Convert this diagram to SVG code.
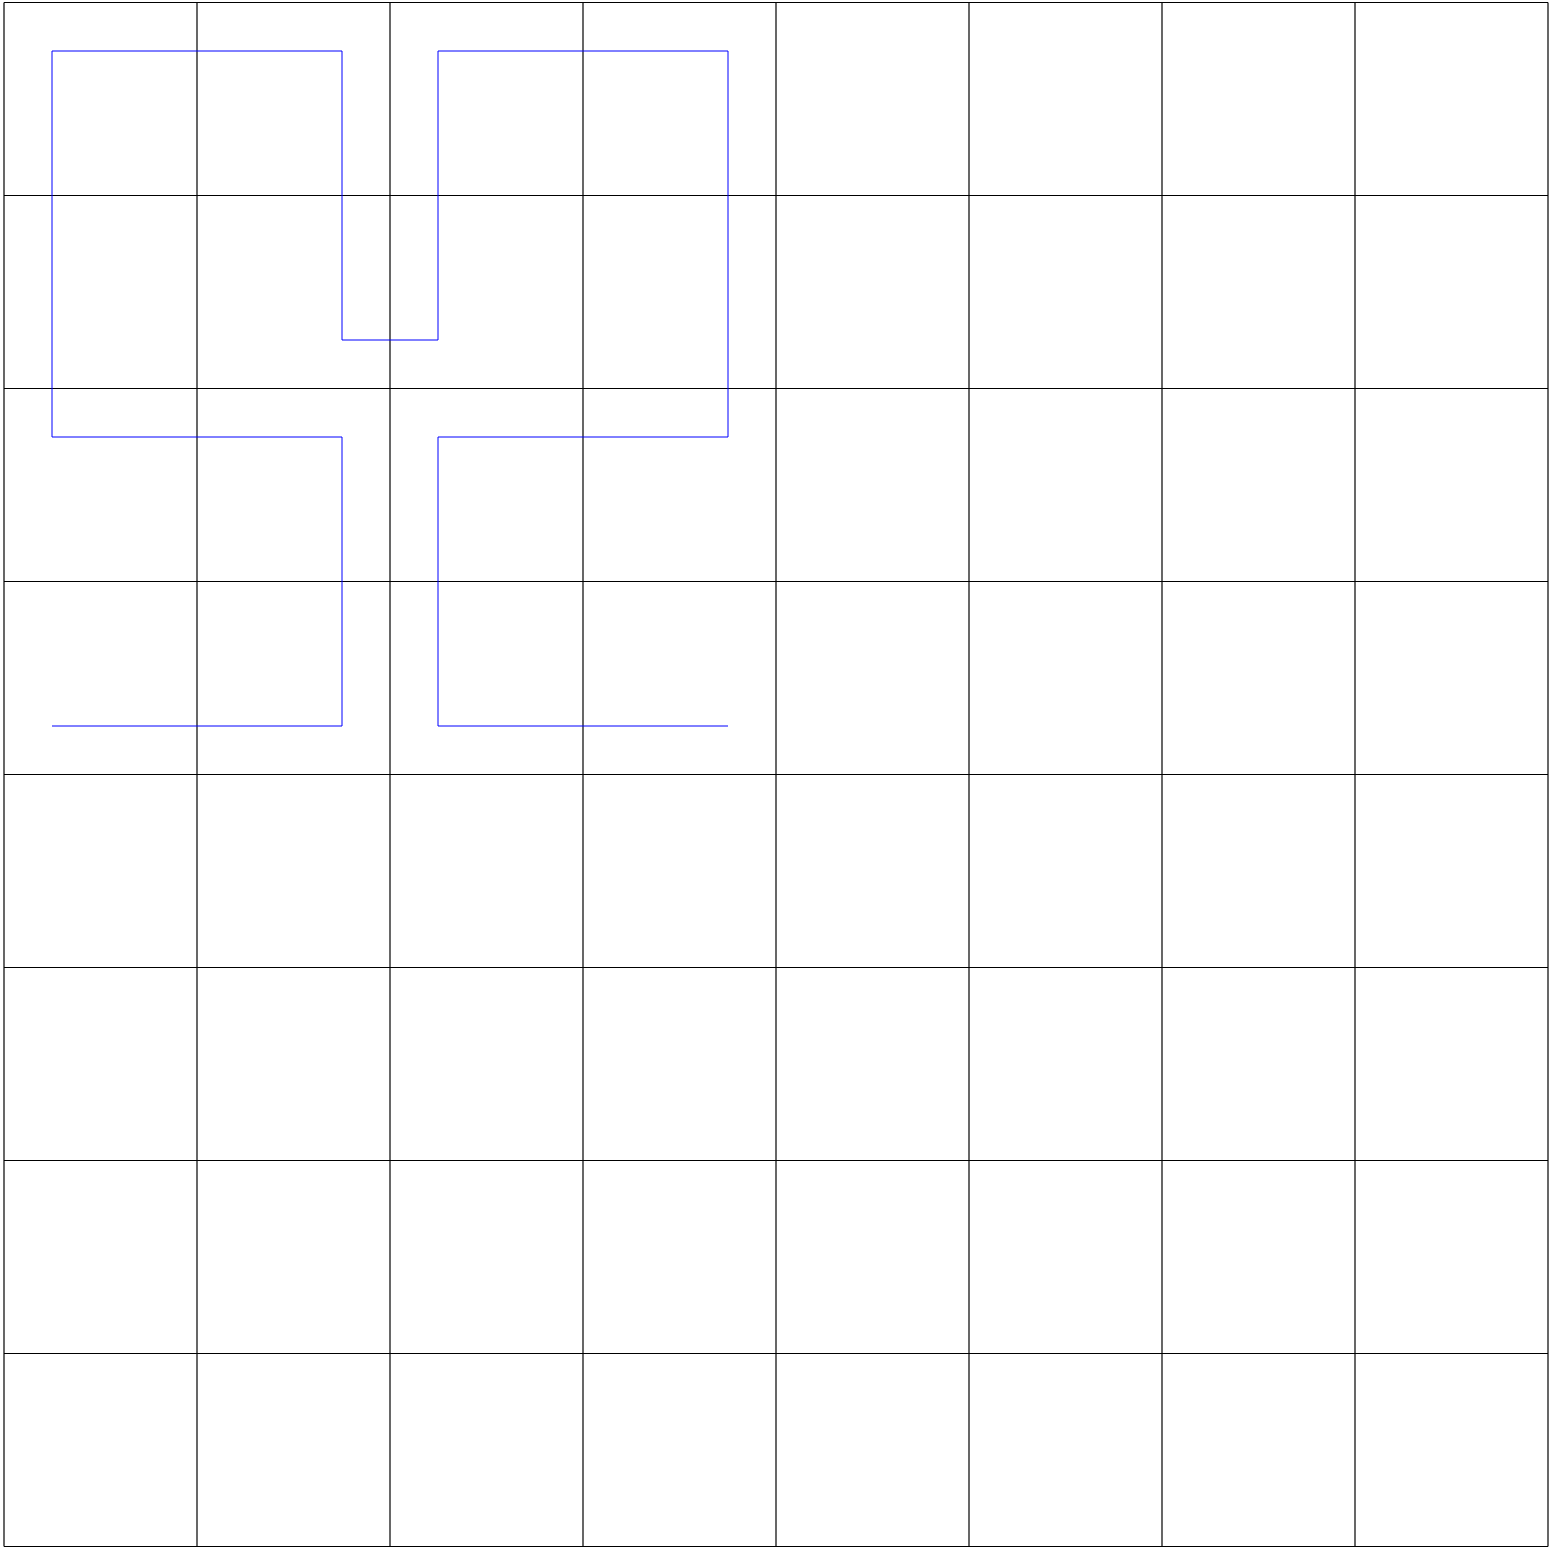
<svg xmlns="http://www.w3.org/2000/svg" width="1550" height="1547" viewBox="0 0 1550 1547">
<style>
.grid line{stroke:#000;stroke-width:1.2}
.curve{fill:none;stroke:#0000ff;stroke-width:1}
</style>
<rect width="1550" height="1547" fill="#fff"/>
<g id="grid" class="grid">
<line x1="4" y1="2.5" x2="4" y2="1546.5"/>
<line x1="197" y1="2.5" x2="197" y2="1546.5"/>
<line x1="390" y1="2.5" x2="390" y2="1546.5"/>
<line x1="583" y1="2.5" x2="583" y2="1546.5"/>
<line x1="776" y1="2.5" x2="776" y2="1546.5"/>
<line x1="969" y1="2.5" x2="969" y2="1546.5"/>
<line x1="1162" y1="2.5" x2="1162" y2="1546.5"/>
<line x1="1355" y1="2.5" x2="1355" y2="1546.5"/>
<line x1="1548" y1="2.5" x2="1548" y2="1546.5"/>
<line x1="4" y1="2.5" x2="1548" y2="2.5"/>
<line x1="4" y1="195.5" x2="1548" y2="195.5"/>
<line x1="4" y1="388.5" x2="1548" y2="388.5"/>
<line x1="4" y1="581.5" x2="1548" y2="581.5"/>
<line x1="4" y1="774.5" x2="1548" y2="774.5"/>
<line x1="4" y1="967.5" x2="1548" y2="967.5"/>
<line x1="4" y1="1160.5" x2="1548" y2="1160.5"/>
<line x1="4" y1="1353.5" x2="1548" y2="1353.5"/>
<line x1="4" y1="1546.5" x2="1548" y2="1546.5"/>
</g>
<g id="connectors">
<polyline class="curve" points="52,726 342,726 342,437 52,437 52,51 342,51 342,340 438,340 438,51 728,51 728,437 438,437 438,726 728,726"/>
</g>
</svg>
